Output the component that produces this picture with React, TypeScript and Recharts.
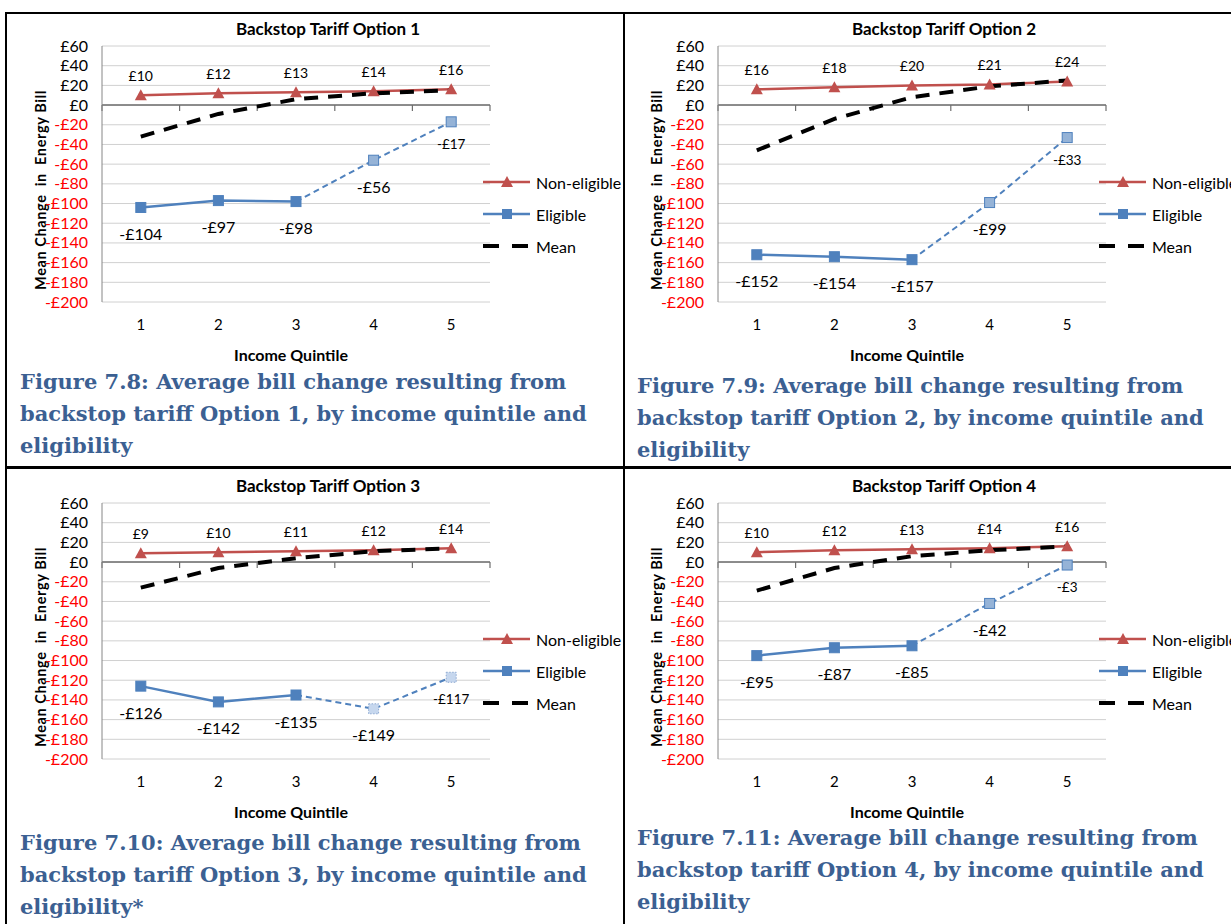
import React from 'react';
import { CartesianGrid, LabelList, Legend, Line, LineChart, ReferenceLine, XAxis, YAxis } from 'recharts';

// quintiles on the x axis, pound ticks on the y axis
const quintiles = [1, 2, 3, 4, 5];
const quintileEdges = [0.5, 1.5, 2.5, 3.5, 4.5, 5.5];
const poundTicks = [-200, -180, -160, -140, -120, -100, -80, -60, -40, -20, 0, 20, 40, 60];

// Option 1
const opt1NonEligible = [10, 12, 13, 14, 16];
const opt1Eligible = [-104, -97, -98, -56, -17];
const opt1Mean = [-32, -9, 6, 12, 15];

// Option 2
const opt2NonEligible = [16, 18, 20, 21, 24];
const opt2Eligible = [-152, -154, -157, -99, -33];
const opt2Mean = [-46, -14, 8, 19, 25];

// Option 3
const opt3NonEligible = [9, 10, 11, 12, 14];
const opt3Eligible = [-126, -142, -135, -149, -117];
const opt3Mean = [-26, -6, 4, 11, 14];

// Option 4
const opt4NonEligible = [10, 12, 13, 14, 16];
const opt4Eligible = [-95, -87, -85, -42, -3];
const opt4Mean = [-29, -6, 6, 12, 16];

const legendOrder = ['nonEligible', 'eligibleSolid', 'mean'];

const FONT = 'Lato, "Liberation Sans", sans-serif';
const RED = '#c0504d';
const BLUE = '#4f81bd';
const CAPTION_BLUE = '#3b6092';

const fmt = (v: number) => (v < 0 ? `-£${Math.abs(v)}` : `£${v}`);

const PoundTick = ({ x, y, payload }: any) => (
  <text x={x} y={y} dy={5.5} textAnchor="end" fontSize={16} fontFamily={FONT} fill={payload.value < 0 ? '#ff0000' : '#000'}>
    {fmt(payload.value)}
  </text>
);

const QuintileTick = ({ x, y, payload }: any) => (
  <text x={x} y={y} dy={14} textAnchor="middle" fontSize={15} fontFamily={FONT} fill="#000">
    {payload.value}
  </text>
);

const Triangle = ({ cx, cy }: any) => {
  if (cx == null || cy == null) return <g />;
  return <polygon points={`${cx},${cy - 6} ${cx - 6},${cy + 5} ${cx + 6},${cy + 5}`} fill={RED} />;
};

const makeSquare = (fill: string, stroke: string, dotted = false) => ({ cx, cy }: any) => {
  if (cx == null || cy == null) return <g />;
  return (
    <rect x={cx - 5} y={cy - 5} width={10} height={10} fill={fill} stroke={stroke} strokeWidth={1}
      strokeDasharray={dotted ? '1.5 1.5' : undefined} />
  );
};

const NonEligibleLabel = (p: any) => {
  if (p.value == null) return null;
  return (
    <text x={p.x} y={p.y - 20} textAnchor="middle" dominantBaseline="central" fontSize={14} fontFamily={FONT} fill="#000">
      {fmt(p.value)}
    </text>
  );
};

const makeEligibleLabel = (skipIndex: number) => (p: any) => {
  if (p.value == null || p.index === skipIndex) return null;
  const small = p.index === 4;
  return (
    <text x={p.x} y={p.y + (small ? 22 : 26)} textAnchor="middle" dominantBaseline="central"
      fontSize={small ? 13.5 : 16} fontFamily={FONT} fill="#000">
      {fmt(p.value)}
    </text>
  );
};

const LegendBox = ({ payload }: any) => {
  const items = (payload || [])
    .filter((e: any) => legendOrder.includes(e.dataKey))
    .sort((a: any, b: any) => legendOrder.indexOf(a.dataKey) - legendOrder.indexOf(b.dataKey));
  return (
    <div style={{ fontFamily: FONT, fontSize: 16, color: '#000' }}>
      {items.map((entry: any) => {
        let icon;
        if (entry.dataKey === 'mean') {
          icon = <line x1={0} y1={8} x2={45} y2={8} stroke="#000" strokeWidth={4} strokeDasharray="16 13" />;
        } else if (entry.dataKey === 'nonEligible') {
          icon = (
            <g>
              <line x1={0} y1={8} x2={47} y2={8} stroke={RED} strokeWidth={2.5} />
              <polygon points="24,2 18,13 30,13" fill={RED} />
            </g>
          );
        } else {
          icon = (
            <g>
              <line x1={0} y1={8} x2={47} y2={8} stroke={BLUE} strokeWidth={2.5} />
              <rect x={19} y={3} width={10} height={10} fill={BLUE} />
            </g>
          );
        }
        return (
          <div key={entry.dataKey} style={{ height: 32, display: 'flex', alignItems: 'center', whiteSpace: 'nowrap' }}>
            <svg width={47} height={16} style={{ marginRight: 6 }}>{icon}</svg>
            <span>{entry.dataKey === 'eligibleSolid' ? 'Eligible' : entry.value}</span>
          </div>
        );
      })}
    </div>
  );
};

const charts = [
  {
    title: 'Backstop Tariff Option 1',
    nonEligible: opt1NonEligible, eligible: opt1Eligible, mean: opt1Mean,
    caption: ['Figure 7.8: Average bill change resulting from', 'backstop tariff Option 1, by income quintile and', 'eligibility'],
    left: 0, top: 13, capLeft: 20, capTop: 366, light: false,
  },
  {
    title: 'Backstop Tariff Option 2',
    nonEligible: opt2NonEligible, eligible: opt2Eligible, mean: opt2Mean,
    caption: ['Figure 7.9: Average bill change resulting from', 'backstop tariff Option 2, by income quintile and', 'eligibility'],
    left: 616, top: 13, capLeft: 637, capTop: 370, light: false,
  },
  {
    title: 'Backstop Tariff Option 3',
    nonEligible: opt3NonEligible, eligible: opt3Eligible, mean: opt3Mean,
    caption: ['Figure 7.10: Average bill change resulting from', 'backstop tariff Option 3, by income quintile and', 'eligibility*'],
    left: 0, top: 470, capLeft: 20, capTop: 827, light: true,
  },
  {
    title: 'Backstop Tariff Option 4',
    nonEligible: opt4NonEligible, eligible: opt4Eligible, mean: opt4Mean,
    caption: ['Figure 7.11: Average bill change resulting from', 'backstop tariff Option 4, by income quintile and', 'eligibility'],
    left: 616, top: 470, capLeft: 637, capTop: 822, light: false,
  },
];

const CHART_W = 620;
const CHART_H = 360;

const TariffChart = ({ chart }: any) => {
  const rows = quintiles.map((q, i) => ({
    q,
    nonEligible: chart.nonEligible[i],
    mean: chart.mean[i],
    eligibleSolid: i <= 2 ? chart.eligible[i] : null,
    eligibleDashed: i >= 2 ? chart.eligible[i] : null,
  }));

  return (
    <div style={{ position: 'absolute', left: chart.left, top: chart.top, width: CHART_W, height: CHART_H, fontFamily: FONT }}>
      <div style={{ position: 'absolute', left: 178, top: 5, width: 300, textAlign: 'center', fontWeight: 700, fontSize: 17 }}>
        {chart.title}
      </div>
      <div style={{ position: 'absolute', left: 41 - 130, top: 177 - 10, width: 260, height: 20, lineHeight: '20px', textAlign: 'center',
        fontWeight: 700, fontSize: 14.5, letterSpacing: 0.6, transform: 'rotate(-90deg)', whiteSpace: 'pre' }}>
        {'Mean Change  in  Energy Bill'}
      </div>
      <div style={{ position: 'absolute', left: 291 - 100, top: 342 - 10, width: 200, textAlign: 'center', fontWeight: 700, fontSize: 16 }}>
        Income Quintile
      </div>
      <LineChart width={CHART_W} height={CHART_H} data={rows} margin={{ top: 33, right: 130, left: 10, bottom: 31 }}>
        <CartesianGrid vertical={false} stroke="#d0d0d0" />
        <XAxis dataKey="q" type="number" domain={[0.5, 5.5]} ticks={quintiles} height={40}
          axisLine={false} tickLine={false} tick={<QuintileTick />} tickMargin={8} />
        <YAxis type="number" domain={[-200, 60]} ticks={poundTicks} width={92} interval={0}
          axisLine={{ stroke: '#868686' }} tickLine={false} tick={<PoundTick />} tickMargin={8} />
        <ReferenceLine y={0} stroke="#6e6e6e" strokeWidth={1.5} />
        {quintileEdges.map((e) => (
          <ReferenceLine key={e} segment={[{ x: e, y: 0 }, { x: e, y: -6 }]} stroke="#6e6e6e" strokeWidth={1.2} />
        ))}
        <Line dataKey="nonEligible" name="Non-eligible" stroke={RED} strokeWidth={2.5}
          dot={<Triangle />} activeDot={false} isAnimationActive={false}>
          <LabelList dataKey="nonEligible" content={NonEligibleLabel} />
        </Line>
        <Line dataKey="eligibleSolid" name="Eligible" stroke={BLUE} strokeWidth={2.5}
          dot={makeSquare(BLUE, BLUE)} activeDot={false} isAnimationActive={false}>
          <LabelList dataKey="eligibleSolid" content={makeEligibleLabel(-1)} />
        </Line>
        <Line dataKey="eligibleDashed" name="Eligible (est.)" legendType="none" stroke={BLUE} strokeWidth={2}
          strokeDasharray="6 4"
          dot={(props: any) => (props.index === 2
            ? <g key={props.key} />
            : React.cloneElement(makeSquare(chart.light ? '#c6d7ee' : '#95b3d7', chart.light ? '#8eaad2' : BLUE, chart.light)(props), { key: props.key }))}
          activeDot={false} isAnimationActive={false}>
          <LabelList dataKey="eligibleDashed" content={makeEligibleLabel(2)} />
        </Line>
        <Line dataKey="mean" name="Mean" stroke="#000" strokeWidth={4} strokeDasharray="14 10"
          dot={false} activeDot={false} isAnimationActive={false} />
        <Legend layout="vertical" align="center" verticalAlign="middle" content={<LegendBox />}
          wrapperStyle={{ left: 483, top: 153, width: 170 }} />
      </LineChart>
    </div>
  );
};

export default function App() {
  return (
    <div style={{ position: 'absolute', left: 0, top: 0, width: 1231, height: 924, overflow: 'hidden', background: '#fff' }}>
      {charts.map((c) => (
        <TariffChart key={c.title} chart={c} />
      ))}
      {charts.map((c) => (
        <div key={c.title + '-cap'} style={{ position: 'absolute', left: c.capLeft, top: c.capTop, fontFamily: '"DejaVu Serif", serif',
          fontWeight: 700, fontSize: 21, lineHeight: '32px', color: CAPTION_BLUE, whiteSpace: 'nowrap' }}>
          {c.caption.map((line: string) => (
            <div key={line}>{line}</div>
          ))}
        </div>
      ))}
      {/* table borders */}
      <div style={{ position: 'absolute', left: 5, top: 12, width: 1226, height: 2, background: '#000' }} />
      <div style={{ position: 'absolute', left: 5, top: 466, width: 1226, height: 3, background: '#000' }} />
      <div style={{ position: 'absolute', left: 5, top: 12, width: 2, height: 912, background: '#000' }} />
      <div style={{ position: 'absolute', left: 623, top: 12, width: 2, height: 912, background: '#000' }} />
    </div>
  );
}
